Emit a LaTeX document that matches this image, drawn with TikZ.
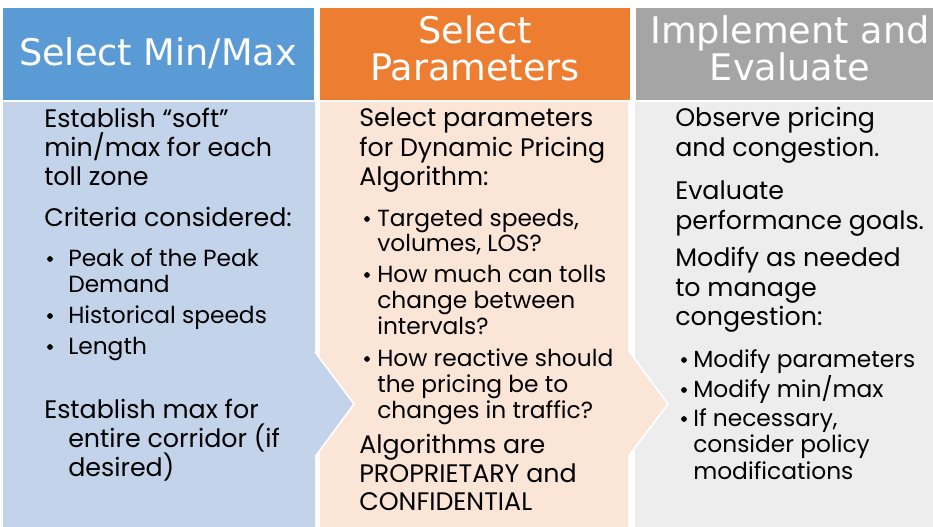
\documentclass[tikz,border=0pt]{standalone}
\usepackage{fontspec}
\setmainfont{Poppins}
\newfontfamily\headfont{DejaVu Sans}
\definecolor{blueHead}{HTML}{5B9BD5}
\definecolor{blueBody}{HTML}{C3D4EA}
\definecolor{orangeHead}{HTML}{ED7D31}
\definecolor{orangeBody}{HTML}{FBE5D6}
\definecolor{grayHead}{HTML}{A5A5A5}
\definecolor{grayBody}{HTML}{EDEDED}

\begin{document}
\begin{tikzpicture}[x=0.75pt,y=-0.75pt,
  head text/.style={anchor=base,text=white,inner sep=0pt,font=\headfont\fontsize{27.5}{30}\selectfont},
  main text/.style={anchor=base west,inner sep=0pt,font=\fontsize{19}{22}\selectfont},
  item text/.style={anchor=base west,inner sep=0pt,font=\fontsize{17.5}{20}\selectfont},
  bullet mark/.style={circle,fill=black,inner sep=0pt,minimum size=4.3pt}]
  \useasboundingbox (0,0) rectangle (933,527);

  % bodies, back to front
  \fill[grayBody] (635,102) rectangle (933,527);
  \fill[orangeBody] (320,102) -- (628,102) -- (628,350) -- (668,404) -- (628,457)
    -- (628,527) -- (320,527) -- cycle;
  \draw[white,line width=1.2pt] (628,350) -- (668,404) -- (628,457);
  \fill[blueBody] (3,102) -- (315,102) -- (315,352) -- (354,404) -- (315,457)
    -- (315,527) -- (3,527) -- cycle;
  \draw[white,line width=1.2pt] (315,352) -- (354,404) -- (315,457);

  % headers
  \fill[blueHead] (3,8) rectangle (314,100);
  \fill[orangeHead] (320,8) rectangle (630,100);
  \fill[grayHead] (636,8) rectangle (933,100);
  \node[head text] (h1) at (158,66) {Select Min/Max};
  \node[head text] (h2) at (475,44) {Select};
  \node[head text] (h3) at (475,81) {Parameters};
  \node[head text] (h4) at (790,44) {Implement and};
  \node[head text] (h5) at (790,81) {Evaluate};

  % column 1
  \foreach \txt/\yy [count=\i] in {Establish “soft”/128, {min/max for each}/157,
      toll zone/186, Criteria considered:/227, Establish max for/419}
    \node[main text] (a\i) at (44,\yy) {\txt};
  \foreach \txt/\yy [count=\i] in {Peak of the Peak/267, Demand/293,
      Historical speeds/324, Length/355}
    \node[item text] (b\i) at (68,\yy) {\txt};
  \node[main text] (a6) at (68,448) {entire corridor (if};
  \node[main text] (a7) at (68,477) {desired)};
  \foreach \yy [count=\i] in {267,324,355}
    \node[bullet mark] (m\i) at (50,\yy-8) {};

  % column 2
  \foreach \txt/\yy [count=\i] in {Select parameters/127, for Dynamic Pricing/157,
      Algorithm:/186, Algorithms are/454, PROPRIETARY and/483, CONFIDENTIAL/511}
    \node[main text] (c\i) at (359,\yy) {\txt};
  \foreach \txt/\yy [count=\i] in {{Targeted speeds,}/227, {volumes, LOS?}/252,
      How much can tolls/283, change between/309, intervals?/335,
      How reactive should/367, the pricing be to/393, changes in traffic?/419}
    \node[item text] (d\i) at (377,\yy) {\txt};
  \foreach \yy [count=\i] in {227,283,367}
    \node[bullet mark] (n\i) at (367,\yy-8) {};

  % column 3
  \foreach \txt/\yy [count=\i] in {Observe pricing/127, and congestion./157,
      Evaluate/200, performance goals./230, Modify as needed/267,
      to manage/297, congestion:/326}
    \node[main text] (e\i) at (675,\yy) {\txt};
  \foreach \txt/\yy [count=\i] in {Modify parameters/368, {Modify min/max}/398,
      {If necessary,}/427, consider policy/453, modifications/480}
    \node[item text] (f\i) at (693,\yy) {\txt};
  \foreach \yy [count=\i] in {368,398,427}
    \node[bullet mark] (p\i) at (684,\yy-8) {};
\end{tikzpicture}
\end{document}
